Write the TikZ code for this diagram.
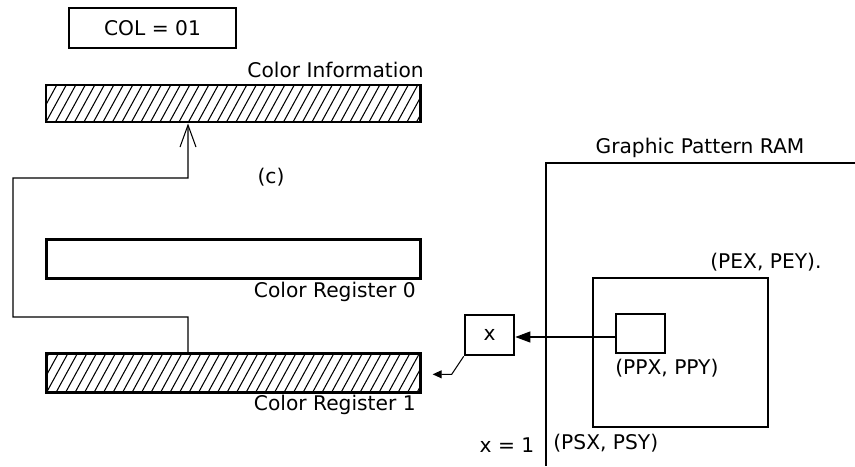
\documentclass[tikz,border=0pt]{standalone}
\usepackage{fontspec}
\setmainfont{DejaVu Sans}
\usepackage{tikz}
\usetikzlibrary{arrows.meta,positioning,calc}
\tikzset{
  txt/.style   ={font=\fontsize{11.5}{13}\selectfont,inner sep=0pt},
  blk/.style   ={draw,line width=1.5pt,minimum width=9.8mm,minimum height=8mm,
                 inner sep=0pt,txt},
  bar/.style   ={draw,line width=1.7pt,minimum width=74.8mm,minimum height=7.8mm,
                 inner sep=0pt},
  hatched/.style={bar,path picture={
                 \foreach \i in {-4,...,40}
                   \draw[line width=0.6pt]
                     ([xshift=\i*1.9mm]path picture bounding box.south west) -- ++(0.46,0.84);}},
  wire/.style  ={line width=0.6pt},
  up/.style    ={wire,-{Straight Barb[length=4.4mm,width=3.2mm,line width=0.6pt]}},
  fl/.style    ={wire,-{Triangle[length=3mm,width=2.2mm]}},
  fls/.style   ={wire,-{Triangle[length=1.8mm,width=1.6mm]}},
  ram/.style   ={line width=1.4pt},
}
\begin{document}
\begin{tikzpicture}[x=1cm,y=1cm]
\useasboundingbox (0,0) rectangle (17.1,-9.32);

%% ================= colour registers (left) ==============================
\node[blk,minimum width=33.4mm] (col) at (3.05,-0.56) {COL = 01};

\node[hatched,minimum height=7.4mm] (ci) at (4.66,-2.07) {};
\node[txt,anchor=base east] at (8.48,-1.55) {Color Information};

\node[txt] at (5.42,-3.54) {(c)};

\node[bar] (r0) at (4.67,-5.18) {};
\node[txt,anchor=east] (r0l) at (8.32,-5.84) {Color Register 0};

\node[hatched] (r1) at (4.67,-7.46) {};
\node[txt,anchor=east] (r1l) at (8.32,-8.10) {Color Register 1};

% selected register is fed back up to the colour information
\draw[up] ([xshift=-9.1mm]r1.north) |- (0.26,-6.34) |- (3.76,-3.56)
  -- ([xshift=-9.0mm]ci.south);

%% ================= graphic pattern RAM (right) ==========================
\draw[ram] (17.1,-3.26) -- (10.92,-3.26) -- (10.92,-9.32);
\node[txt] (raml) at (14.0,-2.96) {Graphic Pattern RAM};

\node[draw,ram,line width=1.2pt,minimum width=35mm,minimum height=29.8mm,inner sep=0pt] (pe) at (13.61,-7.05) {};
\node[txt,anchor=west] at (14.2,-5.24) {(PEX, PEY).};

\node[blk,line width=1.3pt,minimum height=7.8mm] (pp) at (12.81,-6.67) {};
\node[txt,anchor=west] at (12.30,-7.36) {(PPX, PPY)};

\node[txt,anchor=west] at (11.06,-8.86) {(PSX, PSY)};
\node[txt] at (10.14,-8.90) {x = 1};

%% ================= pixel value x ========================================
\node[blk] (xb) at (9.79,-6.70) {x};

\draw[fl] ([yshift=-0.7mm]pp.west) -- ([yshift=-0.7mm]pp.west -| xb.east);
\draw[fls] (xb.south west) -- ++(-0.24,-0.36) -- ++(-0.38,0);

\end{tikzpicture}
\end{document}
